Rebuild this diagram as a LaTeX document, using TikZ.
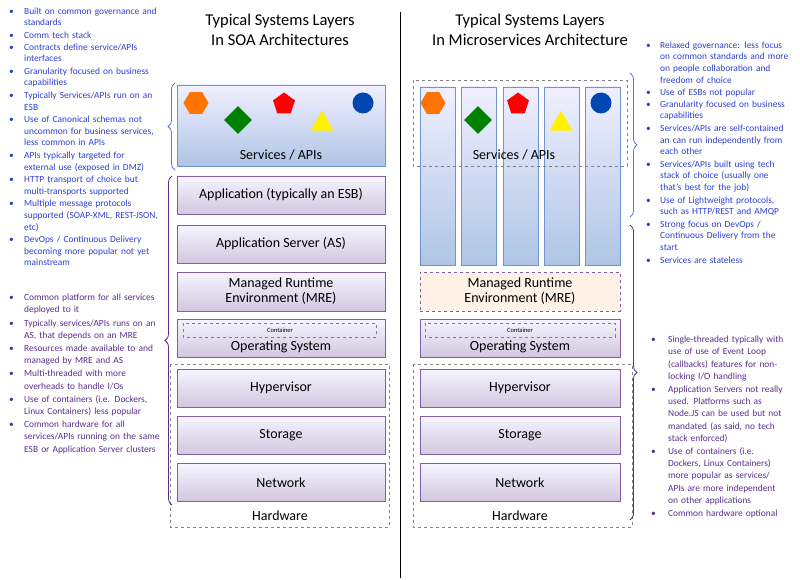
\documentclass[tikz,border=0pt]{standalone}
\usepackage{fontspec}
\setmainfont{Carlito}
\usetikzlibrary{shapes.geometric,decorations.pathreplacing}
\definecolor{bt}{HTML}{2D3FD0}
\definecolor{pt}{HTML}{5A2E8C}
\definecolor{bbor}{HTML}{6E95D0}
\definecolor{pbor}{HTML}{7E5FA6}
\newcommand\bitem[3][18pt]{\noindent\makebox[#1][l]{\hspace{#2}\textbullet}\parbox[t]{\dimexpr\linewidth-#1}{\raggedright\hyphenpenalty=10000 \exhyphenpenalty=0 \strut#3\strut}\par}
\tikzset{
 pbox/.style={draw=pbor,line width=0.8pt,top color=purple!4!blue!4,bottom color=pbor!35,font=\fontsize{14}{15}\selectfont,align=center,inner sep=0pt},
 bbox/.style={draw=bbor,line width=0.8pt,top color=blue!6,bottom color=bbor!55},
 dbox/.style={draw=gray,dashed,line width=0.7pt},
 txt/.style={anchor=north west,inner sep=0pt,font=\fontsize{9.4}{11.6}\selectfont},
 ttl/.style={font=\fontsize{16.5}{20}\selectfont,align=center},
 brace/.style={decorate,decoration={brace,amplitude=7pt},line width=0.8pt}
}
\begin{document}
\begin{tikzpicture}[x=1pt,y=-1pt]
\useasboundingbox (0,0) rectangle (800,580);
\draw[line width=1pt] (400,12) coordinate(d1) -- (400,578) coordinate(d2);
\node[ttl] (t1) at (280,30) {Typical Systems Layers\\In SOA Architectures};
\node[ttl] (t2) at (530,30) {Typical Systems Layers\\In Microservices Architecture};
% left stack
\draw[bbox] (177,85) rectangle (385,166);
\node[font=\fontsize{14}{15}\selectfont] (ls) at (281,155) {Services / APIs};
\node[pbox,minimum width=208pt,minimum height=38pt] (la) at (281,195) {Application (typically an ESB)};
\node[pbox,minimum width=208pt,minimum height=38pt] (las) at (281,244) {Application Server (AS)};
\node[pbox,minimum width=208pt,minimum height=39pt] (lm) at (281,291.5) {Managed Runtime\\Environment (MRE)};
\node[pbox,minimum width=208pt,minimum height=38pt] (lo) at (281,338) {};
\node[font=\fontsize{14}{15}\selectfont] (lot) at (281,347) {Operating System};
\draw[dbox] (183,323) rectangle (376,337);
\node[font=\fontsize{6.5}{7}\selectfont] (lc) at (280,330) {Container};
\draw[dbox] (170,364) rectangle (389,527);
\node[pbox,minimum width=208pt,minimum height=38pt] (lh) at (281,388) {Hypervisor};
\node[pbox,minimum width=208pt,minimum height=38pt] (lst) at (281,435) {Storage};
\node[pbox,minimum width=208pt,minimum height=38pt] (ln) at (281,482.5) {Network};
\node[font=\fontsize{14}{15}\selectfont] (lhw) at (280,516) {Hardware};
% left shapes
\node[regular polygon,regular polygon sides=6,fill=orange!90!red,minimum size=25pt,inner sep=0pt] (s1) at (196,103) {};
\node[diamond,fill=green!50!black,minimum size=28pt,inner sep=0pt] (s2) at (238,120) {};
\node[regular polygon,regular polygon sides=5,fill=red,minimum size=23pt,inner sep=0pt] (s3) at (284,104) {};
\node[isosceles triangle,isosceles triangle apex angle=60,shape border rotate=90,fill=yellow,minimum size=20pt,inner sep=0pt] (s4) at (322,124) {};
\node[circle,fill=blue!60!cyan!70!black,minimum size=21pt,inner sep=0pt] (s5) at (363,103) {};
% right stack
\foreach \x in {420,461,503,544,585}{\draw[bbox] (\x,87) rectangle +(35,178);}
\draw[dbox] (413,80) rectangle (627,166);
\node[font=\fontsize{14}{15}\selectfont] (rs) at (514,155) {Services / APIs};
\node[draw=pbor,dashed,line width=0.8pt,fill=red!12!orange!10,minimum width=200pt,minimum height=39pt,font=\fontsize{14}{15}\selectfont,align=center,inner sep=0pt] (rm) at (520,291.5) {Managed Runtime\\Environment (MRE)};
\node[pbox,minimum width=200pt,minimum height=38pt] (ro) at (520,338) {};
\node[font=\fontsize{14}{15}\selectfont] (rot) at (520,347) {Operating System};
\draw[dbox] (425,323) rectangle (615,337);
\node[font=\fontsize{6.5}{7}\selectfont] (rc) at (520,330) {Container};
\draw[dbox] (413,364) rectangle (632,527);
\node[pbox,minimum width=200pt,minimum height=38pt] (rh) at (520,388) {Hypervisor};
\node[pbox,minimum width=200pt,minimum height=38pt] (rst) at (520,435) {Storage};
\node[pbox,minimum width=200pt,minimum height=38pt] (rn) at (520,482.5) {Network};
\node[font=\fontsize{14}{15}\selectfont] (rhw) at (520,516) {Hardware};
\node[regular polygon,regular polygon sides=6,fill=orange!90!red,minimum size=25pt,inner sep=0pt] (r1) at (433,103) {};
\node[diamond,fill=green!50!black,minimum size=28pt,inner sep=0pt] (r2) at (478,120) {};
\node[regular polygon,regular polygon sides=5,fill=red,minimum size=23pt,inner sep=0pt] (r3) at (518,104) {};
\node[isosceles triangle,isosceles triangle apex angle=60,shape border rotate=90,fill=yellow,minimum size=20pt,inner sep=0pt] (r4) at (561,124) {};
\node[circle,fill=blue!60!cyan!70!black,minimum size=21pt,inner sep=0pt] (r5) at (601,103) {};
% braces
\draw[brace,draw=bbor!80!blue] (175,170) coordinate(b1a) -- (175,83) coordinate(b1b);
\draw[brace,draw=pt] (172,505) coordinate(b2a) -- (172,176) coordinate(b2b);
\draw[brace,draw=bbor!80!blue] (630,73) coordinate(b3a) -- (630,217) coordinate(b3b);
\draw[brace,draw=pt] (630,225) coordinate(b4a) -- (630,520) coordinate(b4b);
% texts
\node[txt,text=bt,text width=152pt] (lt1) at (6,6) {%
\bitem{3pt}{Built on common governance and standards}
\bitem{3pt}{Comm tech stack}
\bitem{3pt}{Contracts define service/APIs interfaces}
\bitem{3pt}{Granularity focused on business capabilities}
\bitem{3pt}{Typically Services/APIs run on an ESB}
\bitem{3pt}{Use of Canonical schemas not uncommon for business services, less common in APIs}
\bitem{3pt}{APIs typically targeted for external use (exposed in DMZ)}
\bitem{3pt}{HTTP transport of choice but multi-transports supported}
\bitem{3pt}{Multiple message protocols supported (SOAP-XML, REST-JSON, etc)}
\bitem{3pt}{DevOps / Continuous Delivery becoming more popular not yet mainstream}};
\node[txt,text=pt,text width=156pt,font=\fontsize{9.4}{12.2}\selectfont] (lt2) at (6,292) {%
\bitem{3pt}{Common platform for all services deployed to it}
\bitem{3pt}{Typically services/APIs runs on an AS, that depends on an MRE}
\bitem{3pt}{Resources made available to and managed by MRE and AS}
\bitem{3pt}{Multi-threaded with more overheads to handle I/Os}
\bitem{3pt}{Use of containers (i.e. Dockers, Linux Containers) less popular}
\bitem{3pt}{Common hardware for all services/APIs running on the same ESB or Application Server clusters}};
\node[txt,text=bt,text width=147pt] (rt1) at (645,40) {%
\bitem[15pt]{1pt}{Relaxed governance: less focus on common standards and more on people collaboration and freedom of choice}
\bitem[15pt]{1pt}{Use of ESBs not popular}
\bitem[15pt]{1pt}{Granularity focused on business capabilities}
\bitem[15pt]{1pt}{Services/APIs are self-contained an can run independently from each other}
\bitem[15pt]{1pt}{Services/APIs built using tech stack of choice (usually one that’s best for the job)}
\bitem[15pt]{1pt}{Use of Lightweight protocols, such as HTTP/REST and AMQP}
\bitem[15pt]{1pt}{Strong focus on DevOps / Continuous Delivery from the start}
\bitem[15pt]{1pt}{Services are stateless}};
\node[txt,text=pt,text width=140pt,font=\fontsize{9.4}{12.2}\selectfont] (rt2) at (648,334) {%
\bitem[20pt]{3pt}{Single-threaded typically with use of use of Event Loop (callbacks) features for non-locking I/O handling}
\bitem[20pt]{3pt}{Application Servers not really used. Platforms such as Node.JS can be used but not mandated (as said, no tech stack enforced)}
\bitem[20pt]{3pt}{Use of containers (i.e. Dockers, Linux Containers) more popular as services/ APIs are more independent on other applications}
\bitem[20pt]{3pt}{Common hardware optional}};
\end{tikzpicture}
\end{document}
